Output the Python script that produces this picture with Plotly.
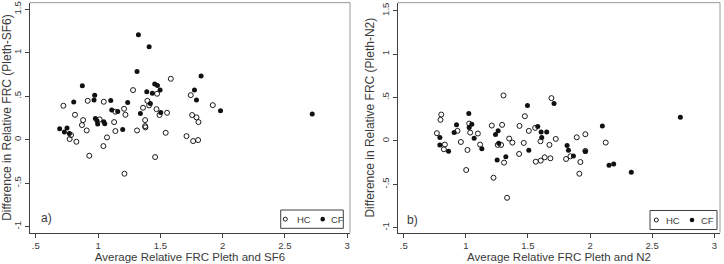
import plotly.graph_objects as go

# ---------------- data ----------------
# Panel a: Pleth vs SF6
hc_a_x = [1.584, 1.281, 1.474, 1.744, 0.917, 1.046, 0.722, 1.396, 1.410, 1.921, 0.815, 0.880, 0.871, 0.909, 0.783,
          0.772, 0.826, 0.930, 1.043, 1.072, 1.139, 1.129, 1.139, 1.209, 1.220, 1.212, 1.313, 1.361, 1.378, 1.378,
          1.380, 1.469, 1.493, 1.554, 1.458, 1.543, 1.710, 1.763, 1.803, 1.755, 1.790, 1.806, 1.013]
hc_a_y = [0.701, 0.571, 0.529, 0.513, 0.448, 0.437, 0.391, 0.448, 0.395, 0.398, 0.287, 0.226, 0.169, 0.107, 0.054,
          0.008, -0.023, -0.184, -0.073, 0.027, 0.100, 0.203, 0.322, 0.356, 0.287, -0.391, 0.107, 0.368, 0.226, 0.157,
          0.142, 0.352, 0.284, 0.310, -0.199, 0.080, 0.042, -0.015, -0.004, 0.284, 0.257, 0.203, 0.234]
cf_a_x = [1.324, 1.410, 1.313, 1.827, 0.874, 1.455, 1.477, 0.973, 1.774, 1.498, 1.391, 1.436, 0.968, 1.790, 0.805,
          1.102, 1.238, 1.420, 1.110, 1.158, 1.340, 1.983, 2.719, 0.979, 0.992, 0.997, 1.046, 1.054, 0.692, 0.751,
          0.730, 0.770, 1.198, 1.503]
cf_a_y = [1.207, 1.069, 0.785, 0.732, 0.621, 0.640, 0.625, 0.513, 0.571, 0.571, 0.552, 0.536, 0.456, 0.456, 0.433,
          0.452, 0.429, 0.418, 0.341, 0.326, 0.303, 0.333, 0.295, 0.245, 0.218, 0.180, 0.207, 0.184, 0.126, 0.134,
          0.088, 0.073, 0.119, 0.314]

# Panel b: Pleth vs N2
hc_b_x = [1.303, 1.689, 0.802, 0.796, 0.767, 0.831, 0.823, 0.960, 0.933, 1.035, 1.097, 1.115, 1.013, 1.003, 1.209,
          1.292, 1.223, 1.332, 1.257, 1.284, 1.349, 1.375, 1.308, 1.429, 1.432, 1.475, 1.507, 1.466, 1.558, 1.601,
          1.563, 1.603, 1.635, 1.681, 1.673, 1.724, 1.807, 1.842, 1.893, 1.962, 2.126, 1.922, 1.914, 1.027, 1.962]
hc_b_y = [0.524, 0.493, 0.304, 0.243, 0.089, -0.042, -0.096, -0.012, 0.116, 0.096, 0.085, -0.042, -0.104, -0.335, 0.177,
          0.185, -0.424, -0.655, -0.046, -0.046, 0.027, -0.019, -0.250, -0.150, 0.173, 0.285, 0.116, -0.023, 0.150, -0.004,
          -0.239, -0.227, -0.189, -0.200, -0.046, 0.023, -0.208, -0.177, 0.042, 0.077, -0.019, -0.243, -0.378, 0.200, -0.115]
cf_b_x = [1.024, 1.496, 1.710, 2.727, 2.099, 0.925, 1.048, 1.027, 0.906, 0.791, 0.791, 0.861, 1.067, 1.129, 1.239,
          1.260, 1.265, 1.252, 1.322, 1.507, 1.579, 1.606, 1.611, 1.651, 1.815, 1.826, 1.866, 1.962, 2.153, 2.190, 2.332]
cf_b_y = [0.316, 0.408, 0.432, 0.274, 0.173, 0.185, 0.193, 0.154, 0.096, 0.039, -0.046, -0.119, 0.031, -0.089, 0.073,
          0.116, -0.027, -0.220, -0.181, -0.108, 0.166, 0.104, 0.039, 0.104, -0.054, -0.108, -0.173, -0.123, -0.281, -0.266, -0.362]

x_tickvals = [0.5, 1, 1.5, 2, 2.5, 3]
x_ticktext = [".5", "1", "1.5", "2", "2.5", "3"]
y_tickvals = [-1, -0.5, 0, 0.5, 1, 1.5]
y_ticktext = ["-1", "-.5", "0", ".5", "1", "1.5"]

x_titles = ["Average Relative FRC Pleth and SF6", "Average Relative FRC Pleth and N2"]
y_titles = ["Difference in Relative FRC (Pleth-SF6)", "Difference in Relative FRC (Pleth-N2)"]
panel_labels = ["a)", "b)"]
group_names = ["HC", "CF"]

# ---------------- figure ----------------
FONT = "Liberation Sans, Arial, sans-serif"
TXT = "#3a3a3a"
W, H = 724, 264

fig = go.Figure()

open_marker = dict(symbol="circle-open", size=5, color="#1a1a1a", line=dict(width=1, color="#1a1a1a"))
fill_marker = dict(symbol="circle", size=5, color="#111111", line=dict(width=0))

fig.add_trace(go.Scatter(x=hc_a_x, y=hc_a_y, mode="markers", marker=open_marker, name=group_names[0],
                         xaxis="x", yaxis="y", showlegend=False))
fig.add_trace(go.Scatter(x=cf_a_x, y=cf_a_y, mode="markers", marker=fill_marker, name=group_names[1],
                         xaxis="x", yaxis="y", showlegend=False))
fig.add_trace(go.Scatter(x=hc_b_x, y=hc_b_y, mode="markers", marker=open_marker, name=group_names[0],
                         xaxis="x2", yaxis="y2", showlegend=False))
fig.add_trace(go.Scatter(x=cf_b_x, y=cf_b_y, mode="markers", marker=fill_marker, name=group_names[1],
                         xaxis="x2", yaxis="y2", showlegend=False))

# pixel layout
ytop, ybot = 2.64, 232.6
ydom = [1 - ybot / H, 1 - ytop / H]
panels = [
    dict(xl=30, xr=350, xrange=[0.454, 3.022], yrange=[-1.068, 1.577]),
    dict(xl=398, xr=720, xrange=[0.454, 3.046], yrange=[-1.056, 1.593]),
]

def axis_common():
    return dict(showgrid=False, zeroline=False, showline=True, linecolor="#404040", linewidth=1,
                ticks="outside", ticklen=4, tickwidth=1, tickcolor="#404040",
                tickfont=dict(family=FONT, size=9.5, color=TXT))

layout = dict(width=W, height=H, margin=dict(l=0, r=0, t=0, b=0),
              paper_bgcolor="white", plot_bgcolor="white", showlegend=False,
              font=dict(family=FONT, color=TXT))

shapes = []
annotations = []
for i, p in enumerate(panels):
    sx = "" if i == 0 else str(i + 1)
    xa = axis_common()
    xa.update(domain=[p["xl"] / W, p["xr"] / W], range=p["xrange"], tickvals=x_tickvals, ticktext=x_ticktext,
              anchor="y" + sx, title=dict(text=x_titles[i], font=dict(family=FONT, size=11.5, color=TXT), standoff=0))
    ya = axis_common()
    ya.update(domain=ydom, range=p["yrange"], tickvals=y_tickvals, ticktext=y_ticktext, tickangle=-90,
              anchor="x" + sx, title=dict(text=y_titles[i], font=dict(family=FONT, size=12, color=TXT), standoff=2))
    layout["xaxis" + sx] = xa
    layout["yaxis" + sx] = ya

    xref = "x" + sx + " domain"
    yref = "y" + sx + " domain"
    # gray top & right border of plot region
    shapes.append(dict(type="line", xref=xref, yref=yref, x0=0, x1=1, y0=1, y1=1, line=dict(color="#9a9a9a", width=1)))
    shapes.append(dict(type="line", xref=xref, yref=yref, x0=1, x1=1, y0=0, y1=1, line=dict(color="#9a9a9a", width=1)))

    pw = p["xr"] - p["xl"]
    ph = ybot - ytop
    fx = lambda px: (px - p["xl"]) / pw
    fy = lambda py: (ybot - py) / ph

    # panel label
    lab_px = (46.7, 218) if i == 0 else (412.7, 220)
    annotations.append(dict(text=panel_labels[i], xref=xref, yref=yref, x=fx(lab_px[0]), y=fy(lab_px[1]),
                            xanchor="center", yanchor="middle", showarrow=False,
                            font=dict(family=FONT, size=12, color=TXT)))

    # legend box
    if i == 0:
        bx0, bx1, by0, by1 = 280.7, 343.3, 210.0, 228.3
        k1, t1, k2, t2 = 285.3, 295.0, 322.7, 329.3
    else:
        bx0, bx1, by0, by1 = 650.0, 717.0, 210.5, 229.5
        k1, t1, k2, t2 = 656.3, 663.5, 692.0, 698.5
    ky = (by0 + by1) / 2
    shapes.append(dict(type="rect", xref=xref, yref=yref, x0=fx(bx0), x1=fx(bx1), y0=fy(by1), y1=fy(by0),
                       line=dict(color="#404040", width=1), fillcolor="white", layer="above"))
    shapes.append(dict(type="circle", xref=xref, yref=yref, xsizemode="pixel", ysizemode="pixel",
                       xanchor=fx(k1), yanchor=fy(ky), x0=-2, x1=2, y0=-2, y1=2,
                       line=dict(color="#1a1a1a", width=1), fillcolor="white", layer="above"))
    shapes.append(dict(type="circle", xref=xref, yref=yref, xsizemode="pixel", ysizemode="pixel",
                       xanchor=fx(k2), yanchor=fy(ky), x0=-2.3, x1=2.3, y0=-2.3, y1=2.3,
                       line=dict(color="#111111", width=0), fillcolor="#111111", layer="above"))
    for tx, name in ((t1, group_names[0]), (t2, group_names[1])):
        annotations.append(dict(text=name, xref=xref, yref=yref, x=fx(tx), y=fy(ky), xanchor="left",
                                yanchor="middle", showarrow=False, font=dict(family=FONT, size=9.5, color=TXT)))

layout["shapes"] = shapes
layout["annotations"] = annotations
fig.update_layout(**layout)

fig.write_html("out.html", config={"displayModeBar": False},
               post_script="document.body.style.margin='0';document.body.style.overflow='hidden';")
